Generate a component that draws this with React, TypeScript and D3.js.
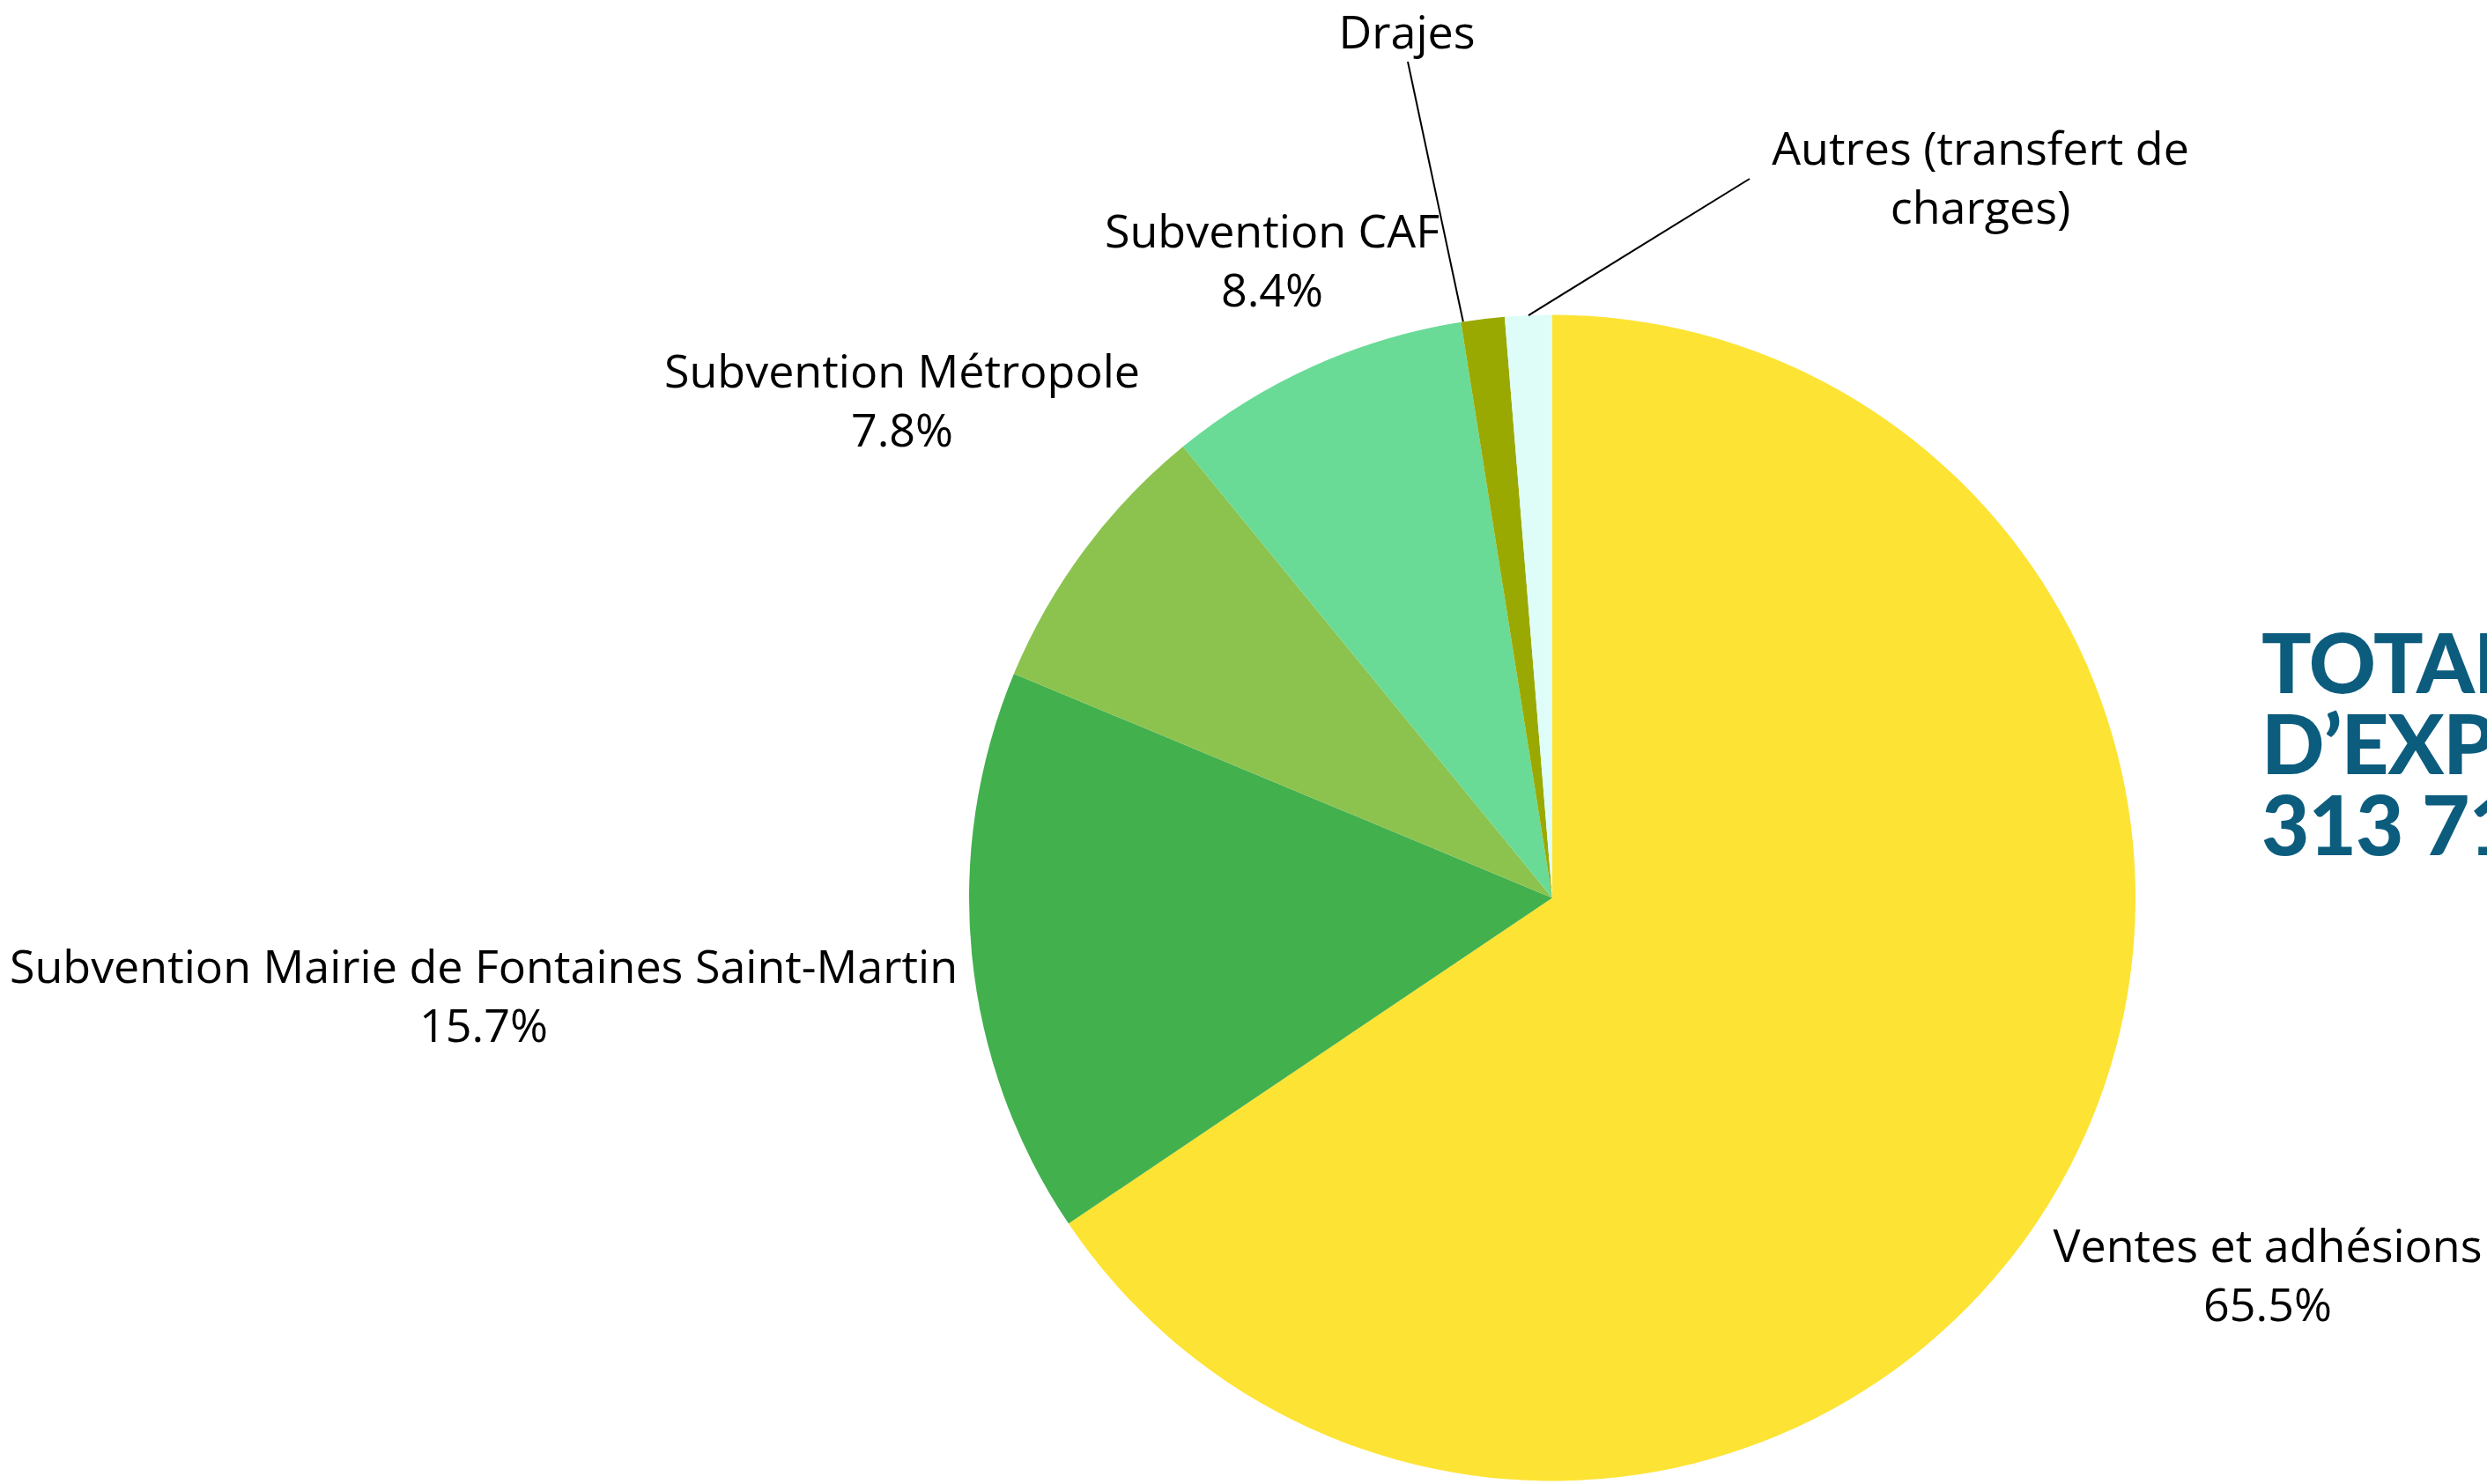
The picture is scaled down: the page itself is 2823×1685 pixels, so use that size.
import React from "react";
import * as d3 from "d3";

const categories = [
  "Ventes et adhésions",
  "Subvention Mairie de Fontaines Saint-Martin",
  "Subvention Métropole",
  "Subvention CAF",
  "Drajes",
  "Autres (transfert de charges)",
];
const values = [65.5, 15.7, 7.8, 8.4, 1.2, 1.3];
const labelLines = [
  ["Ventes et adhésions", "65.5%"],
  ["Subvention Mairie de Fontaines Saint-Martin", "15.7%"],
  ["Subvention Métropole", "7.8%"],
  ["Subvention CAF", "8.4%"],
  ["Drajes"],
  ["Autres (transfert de", "charges)"],
];
const colors = ["#FDE333", "#43B04E", "#8CC34F", "#6ADA97", "#9AA901", "#DEFCF8"];
const titleLines = ["TOTAL PRODUITS", "D\u2019EXPLOITATION", "313 711 \u20AC"];

// layout (label anchor positions)
const labelPos = [
  { x: 2574, y: 1433 },
  { x: 549, y: 1116 },
  { x: 1024, y: 440 },
  { x: 1444, y: 281 },
  { x: 1597, y: 55 },
  { x: 2248, y: 187 },
];
const leaders: Record<number, { x: number; y: number; frac: number }> = {
  4: { x: 1598, y: 70, frac: 0.05 },
  5: { x: 1986, y: 203, frac: 0.5 },
};

const W = 2823;
const H = 1685;
const cx = 1762;
const cy = 1019.5;
const R = 662;

export default function App() {
  const data = categories.map((c, i) => ({ c, v: values[i], i }));
  const pie = d3.pie<any>().sort(null).value((d: any) => d.v).startAngle(0).endAngle(2 * Math.PI);
  const arcs = pie(data);
  const arc = d3.arc<any>().innerRadius(0).outerRadius(R);
  const lineH = 67;
  return (
    <svg
      width={W}
      height={H}
      style={{ position: "absolute", left: 0, top: 0, background: "#fff", overflow: "hidden" }}
    >
      <g transform={`translate(${cx},${cy})`}>
        {arcs.map((a, i) => (
          <path key={i} d={arc(a) as string} fill={colors[i]} />
        ))}
      </g>
      {arcs.map((a, i) => {
        const L = leaders[i];
        if (!L) return null;
        const ang = a.startAngle + L.frac * (a.endAngle - a.startAngle);
        const ex = cx + R * Math.sin(ang);
        const ey = cy - R * Math.cos(ang);
        return <line key={"l" + i} x1={L.x} y1={L.y} x2={ex} y2={ey} stroke="#000" strokeWidth={2} />;
      })}
      {labelLines.map((lines, i) => (
        <text
          key={"t" + i}
          x={labelPos[i].x}
          y={labelPos[i].y}
          textAnchor="middle"
          fontFamily="'Open Sans', sans-serif"
          fontSize={52}
          fill="#000"
        >
          {lines.map((ln, j) => (
            <tspan key={j} x={labelPos[i].x} dy={j === 0 ? 0 : lineH}>
              {ln}
            </tspan>
          ))}
        </text>
      ))}
      {titleLines.map((t, j) => (
        <text
          key={"h" + j}
          x={2567}
          y={787 + j * 92}
          fontFamily="Lato, sans-serif"
          fontWeight={900}
          fontSize={94}
          letterSpacing={-1}
          fill="#0C5C7E"
        >
          {t}
        </text>
      ))}
    </svg>
  );
}
